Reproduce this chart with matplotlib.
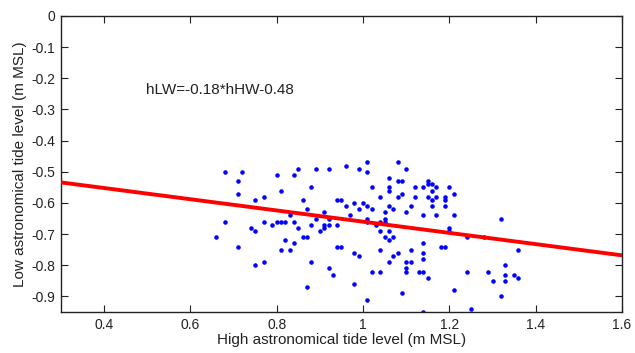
import matplotlib
matplotlib.use("Agg")
import matplotlib.pyplot as plt
from matplotlib.ticker import FuncFormatter

plt.rcParams["font.family"] = ["Liberation Sans", "DejaVu Sans"]
plt.rcParams["axes.unicode_minus"] = False

# high / low astronomical tide levels (m MSL)
hhw = [0.68, 0.72, 0.71, 0.71, 0.80, 0.84, 0.85, 0.81, 0.75, 0.77,
       0.86, 0.68, 0.74, 0.75, 0.77, 0.79, 0.80, 0.81, 0.82, 0.83,
       0.84, 0.85, 0.66, 0.71, 0.82, 0.81, 0.83, 0.84, 0.86, 0.75,
       0.77, 0.89, 0.92, 0.96, 0.99, 1.01, 1.01, 1.08, 0.88, 1.02,
       1.06, 1.08, 1.06, 1.06, 0.94, 0.95, 1.04, 1.08, 0.87, 0.96,
       0.98, 1.00, 0.99, 1.01, 1.02, 1.06, 1.07, 0.91, 0.97, 1.05,
       0.89, 0.92, 1.01, 1.01, 1.05, 1.05, 0.88, 0.91, 0.92, 0.94,
       0.91, 1.03, 1.04, 0.90, 1.04, 1.06, 0.87, 0.94, 0.95, 1.05,
       1.07, 1.06, 1.04, 1.08, 1.07, 1.06, 0.98, 0.99, 0.88, 0.92,
       0.93, 1.02, 1.04, 0.87, 0.98, 1.01, 1.10, 1.09, 1.09, 1.12,
       1.12, 1.14, 1.15, 1.15, 1.16, 1.17, 1.16, 1.15, 1.16, 1.17,
       1.19, 1.19, 1.20, 1.21, 1.11, 1.16, 1.19, 1.10, 1.14, 1.17,
       1.21, 1.20, 1.20, 1.32, 1.11, 1.14, 1.14, 1.14, 1.10, 1.11,
       1.10, 1.10, 1.13, 1.14, 1.15, 1.18, 1.19, 1.24, 1.28, 1.24,
       1.29, 1.30, 1.21, 1.09, 1.32, 1.33, 1.33, 1.33, 1.25, 1.14,
       1.36, 1.35, 1.36]
hlw = [-0.50, -0.50, -0.53, -0.57, -0.51, -0.51, -0.49, -0.56, -0.59, -0.58,
       -0.59, -0.66, -0.68, -0.69, -0.66, -0.67, -0.66, -0.66, -0.66, -0.64,
       -0.66, -0.68, -0.71, -0.74, -0.72, -0.75, -0.75, -0.73, -0.71, -0.80,
       -0.79, -0.49, -0.49, -0.48, -0.49, -0.47, -0.50, -0.47, -0.55, -0.55,
       -0.52, -0.53, -0.55, -0.56, -0.59, -0.59, -0.58, -0.58, -0.62, -0.61,
       -0.60, -0.60, -0.62, -0.61, -0.62, -0.61, -0.62, -0.63, -0.64, -0.63,
       -0.65, -0.65, -0.65, -0.66, -0.65, -0.66, -0.67, -0.67, -0.67, -0.67,
       -0.68, -0.67, -0.66, -0.69, -0.69, -0.69, -0.71, -0.74, -0.74, -0.71,
       -0.71, -0.72, -0.75, -0.76, -0.77, -0.79, -0.76, -0.77, -0.79, -0.81,
       -0.83, -0.82, -0.82, -0.87, -0.86, -0.91, -0.49, -0.53, -0.57, -0.55,
       -0.58, -0.55, -0.53, -0.54, -0.54, -0.55, -0.56, -0.58, -0.59, -0.58,
       -0.58, -0.59, -0.55, -0.57, -0.61, -0.61, -0.61, -0.63, -0.64, -0.64,
       -0.64, -0.68, -0.69, -0.65, -0.75, -0.73, -0.76, -0.78, -0.79, -0.79,
       -0.81, -0.82, -0.82, -0.82, -0.84, -0.74, -0.74, -0.71, -0.71, -0.82,
       -0.82, -0.85, -0.88, -0.89, -0.90, -0.80, -0.83, -0.85, -0.94, -0.95,
       -0.75, -0.83, -0.84]

# linear fit shown on the chart
slope = -0.18
intercept = -0.48
x_range = [0.3, 1.6]

fig = plt.figure(figsize=(6.35, 3.53), dpi=100)
ax = fig.add_axes([0.096, 0.116, 0.8835, 0.8387])

ax.plot(hhw, hlw, ".", color="blue", markersize=4.5, zorder=2)
fit_y = [slope * x + intercept for x in x_range]
ax.plot(x_range, fit_y, color="red", linewidth=2.8, zorder=3)

ax.text(0.497, -0.238, "hLW=-0.18*hHW-0.48", fontsize=11, ha="left", va="center", color="#222222")

ax.set_xlim(0.3, 1.6)
ax.set_ylim(-0.95, 0)
ax.set_xticks([0.4, 0.6, 0.8, 1.0, 1.2, 1.4, 1.6])
ax.set_yticks([0, -0.1, -0.2, -0.3, -0.4, -0.5, -0.6, -0.7, -0.8, -0.9])
ax.xaxis.set_major_formatter(FuncFormatter(lambda v, p: "%g" % round(v, 2)))
ax.yaxis.set_major_formatter(FuncFormatter(lambda v, p: "%g" % round(v, 2)))
ax.tick_params(direction="in", top=True, right=True, length=5, width=0.8, labelsize=10, pad=4, colors="#222222")
for s in ax.spines.values():
    s.set_linewidth(1.0)
    s.set_color("#222222")

ax.set_xlabel("High astronomical tide level (m MSL)", fontsize=11, labelpad=1, color="#222222")
ax.set_ylabel("Low astronomical tide level (m MSL)", fontsize=11, labelpad=3, color="#222222")

fig.savefig("out.png", dpi=100)
